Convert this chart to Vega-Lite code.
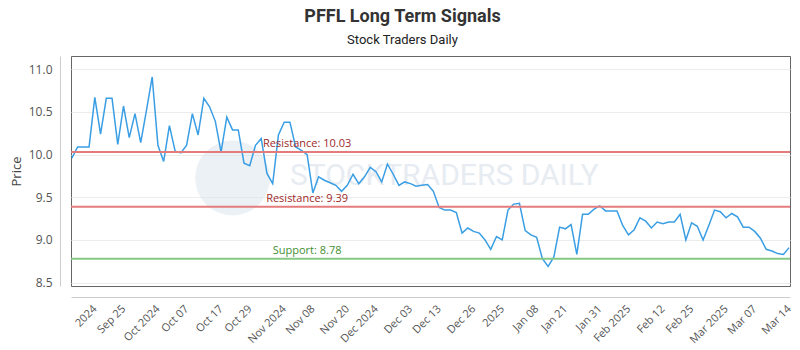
{
  "$schema": "https://vega.github.io/schema/vega-lite/v6.json",
  "autosize": {"type": "none"},
  "width": 719,
  "height": 230,
  "padding": {"left": 71, "top": 56, "right": 10, "bottom": 64},
  "title": {
    "text": "PFFL Long Term Signals",
    "subtitle": "Stock Traders Daily",
    "anchor": "middle",
    "frame": "group",
    "dx": -28,
    "offset": 9,
    "font": "Liberation Sans Narrow, Roboto",
    "fontSize": 18,
    "fontWeight": "bold",
    "color": "#333333",
    "subtitleFont": "Liberation Sans Narrow, Roboto",
    "subtitleFontSize": 13,
    "subtitleColor": "#222222",
    "subtitlePadding": 8
  },
  "config": {
    "view": {"stroke": "#666666", "strokeWidth": 1},
    "axis": {"labelFont": "Open Sans", "titleFont": "Open Sans", "labelColor": "#555555", "titleColor": "#444444"}
  },
  "datasets": {
    "prices": [
      {"date": "2024-09-12", "close": 9.96}, {"date": "2024-09-13", "close": 10.09}, {"date": "2024-09-16", "close": 10.09},
      {"date": "2024-09-17", "close": 10.09}, {"date": "2024-09-18", "close": 10.67}, {"date": "2024-09-19", "close": 10.24},
      {"date": "2024-09-20", "close": 10.66}, {"date": "2024-09-23", "close": 10.66}, {"date": "2024-09-24", "close": 10.12},
      {"date": "2024-09-25", "close": 10.57}, {"date": "2024-09-26", "close": 10.20}, {"date": "2024-09-27", "close": 10.48},
      {"date": "2024-09-30", "close": 10.14}, {"date": "2024-10-01", "close": 10.52}, {"date": "2024-10-02", "close": 10.91},
      {"date": "2024-10-03", "close": 10.11}, {"date": "2024-10-04", "close": 9.92}, {"date": "2024-10-07", "close": 10.34},
      {"date": "2024-10-08", "close": 10.04}, {"date": "2024-10-09", "close": 10.02}, {"date": "2024-10-10", "close": 10.11},
      {"date": "2024-10-11", "close": 10.48}, {"date": "2024-10-14", "close": 10.23}, {"date": "2024-10-15", "close": 10.66},
      {"date": "2024-10-16", "close": 10.56}, {"date": "2024-10-17", "close": 10.39}, {"date": "2024-10-18", "close": 10.03},
      {"date": "2024-10-21", "close": 10.44}, {"date": "2024-10-22", "close": 10.29}, {"date": "2024-10-23", "close": 10.29},
      {"date": "2024-10-24", "close": 9.90}, {"date": "2024-10-25", "close": 9.87}, {"date": "2024-10-28", "close": 10.11},
      {"date": "2024-10-29", "close": 10.19}, {"date": "2024-10-30", "close": 9.78}, {"date": "2024-10-31", "close": 9.66},
      {"date": "2024-11-01", "close": 10.23}, {"date": "2024-11-04", "close": 10.38}, {"date": "2024-11-05", "close": 10.38},
      {"date": "2024-11-06", "close": 10.09}, {"date": "2024-11-07", "close": 10.05}, {"date": "2024-11-08", "close": 10.00},
      {"date": "2024-11-11", "close": 9.55}, {"date": "2024-11-12", "close": 9.74}, {"date": "2024-11-13", "close": 9.70},
      {"date": "2024-11-14", "close": 9.67}, {"date": "2024-11-15", "close": 9.64}, {"date": "2024-11-18", "close": 9.57},
      {"date": "2024-11-19", "close": 9.64}, {"date": "2024-11-20", "close": 9.77}, {"date": "2024-11-21", "close": 9.66},
      {"date": "2024-11-22", "close": 9.74}, {"date": "2024-11-25", "close": 9.85}, {"date": "2024-11-26", "close": 9.80},
      {"date": "2024-11-27", "close": 9.68}, {"date": "2024-11-29", "close": 9.89}, {"date": "2024-12-02", "close": 9.77},
      {"date": "2024-12-03", "close": 9.64}, {"date": "2024-12-04", "close": 9.68}, {"date": "2024-12-05", "close": 9.66},
      {"date": "2024-12-06", "close": 9.63}, {"date": "2024-12-09", "close": 9.64}, {"date": "2024-12-10", "close": 9.65},
      {"date": "2024-12-11", "close": 9.57}, {"date": "2024-12-12", "close": 9.38}, {"date": "2024-12-13", "close": 9.35},
      {"date": "2024-12-16", "close": 9.35}, {"date": "2024-12-17", "close": 9.32}, {"date": "2024-12-18", "close": 9.08},
      {"date": "2024-12-19", "close": 9.14}, {"date": "2024-12-20", "close": 9.10}, {"date": "2024-12-23", "close": 9.08},
      {"date": "2024-12-24", "close": 9.00}, {"date": "2024-12-26", "close": 8.89}, {"date": "2024-12-27", "close": 9.04},
      {"date": "2024-12-30", "close": 9.00}, {"date": "2024-12-31", "close": 9.35}, {"date": "2025-01-02", "close": 9.42},
      {"date": "2025-01-03", "close": 9.43}, {"date": "2025-01-06", "close": 9.11}, {"date": "2025-01-07", "close": 9.06},
      {"date": "2025-01-08", "close": 9.03}, {"date": "2025-01-10", "close": 8.78}, {"date": "2025-01-13", "close": 8.69},
      {"date": "2025-01-14", "close": 8.80}, {"date": "2025-01-15", "close": 9.15}, {"date": "2025-01-16", "close": 9.13},
      {"date": "2025-01-17", "close": 9.18}, {"date": "2025-01-21", "close": 8.83}, {"date": "2025-01-22", "close": 9.30},
      {"date": "2025-01-23", "close": 9.30}, {"date": "2025-01-24", "close": 9.36}, {"date": "2025-01-27", "close": 9.40},
      {"date": "2025-01-28", "close": 9.34}, {"date": "2025-01-29", "close": 9.34}, {"date": "2025-01-30", "close": 9.34},
      {"date": "2025-01-31", "close": 9.17}, {"date": "2025-02-03", "close": 9.06}, {"date": "2025-02-04", "close": 9.12},
      {"date": "2025-02-05", "close": 9.26}, {"date": "2025-02-06", "close": 9.22}, {"date": "2025-02-07", "close": 9.14},
      {"date": "2025-02-10", "close": 9.21}, {"date": "2025-02-11", "close": 9.19}, {"date": "2025-02-12", "close": 9.21},
      {"date": "2025-02-13", "close": 9.21}, {"date": "2025-02-14", "close": 9.30}, {"date": "2025-02-18", "close": 9.00},
      {"date": "2025-02-19", "close": 9.20}, {"date": "2025-02-20", "close": 9.16}, {"date": "2025-02-21", "close": 9.00},
      {"date": "2025-02-24", "close": 9.17}, {"date": "2025-02-25", "close": 9.35}, {"date": "2025-02-26", "close": 9.33},
      {"date": "2025-02-27", "close": 9.26}, {"date": "2025-02-28", "close": 9.31}, {"date": "2025-03-03", "close": 9.27},
      {"date": "2025-03-04", "close": 9.15}, {"date": "2025-03-05", "close": 9.15}, {"date": "2025-03-06", "close": 9.10},
      {"date": "2025-03-07", "close": 9.02}, {"date": "2025-03-10", "close": 8.89}, {"date": "2025-03-11", "close": 8.87},
      {"date": "2025-03-12", "close": 8.84}, {"date": "2025-03-13", "close": 8.83}, {"date": "2025-03-14", "close": 8.91}
    ],
    "levels": [
      {"kind": "resistance", "level": 10.03, "label": "Resistance: 10.03"},
      {"kind": "resistance", "level": 9.39, "label": "Resistance: 9.39"},
      {"kind": "support", "level": 8.78, "label": "Support: 8.78"}
    ],
    "mark": [
      {"name": "STOCKTRADERS DAILY", "date": "2024-11-05", "pos": 9.75, "logoDate": "2024-10-22", "logoPos": 9.726}
    ]
  },
  "layer": [
    {
      "data": {"name": "mark"},
      "mark": {"type": "point", "filled": true, "color": "#dde5ee", "opacity": 0.55, "size": 5600},
      "encoding": {
        "x": {"field": "logoDate", "type": "ordinal"},
        "y": {"field": "logoPos", "type": "quantitative"}
      }
    },
    {
      "data": {"name": "mark"},
      "mark": {"type": "text", "align": "left", "baseline": "middle", "font": "Liberation Sans Narrow, Roboto", "fontSize": 30, "color": "#e7ecf2"},
      "encoding": {
        "x": {"field": "date", "type": "ordinal"},
        "y": {"field": "pos", "type": "quantitative"},
        "text": {"field": "name"}
      }
    },
    {
      "data": {"name": "prices"},
      "mark": {"type": "line", "color": "#3a9ee4", "strokeWidth": 1.5},
      "encoding": {
        "x": {
          "field": "date", "type": "ordinal",
          "scale": {"type": "point", "padding": 0.15},
          "axis": {
            "title": null,
            "offset": 11,
            "domainColor": "#cccccc",
            "ticks": false,
            "grid": false,
            "labelAngle": -45,
            "labelAlign": "right",
            "labelBaseline": "middle",
            "labelPadding": 10,
            "labelFontSize": 11,
            "labelOverlap": false,
            "values": ["2024-09-18","2024-09-25","2024-10-03","2024-10-10","2024-10-18","2024-10-25","2024-11-04","2024-11-11","2024-11-19","2024-11-26","2024-12-05","2024-12-12","2024-12-20","2024-12-30","2025-01-08","2025-01-16","2025-01-27","2025-02-03","2025-02-11","2025-02-19","2025-02-27","2025-03-06","2025-03-14"],
            "labelExpr": "{'2024-09-18':'2024','2024-09-25':'Sep 25','2024-10-03':'Oct 2024','2024-10-10':'Oct 07','2024-10-18':'Oct 17','2024-10-25':'Oct 29','2024-11-04':'Nov 2024','2024-11-11':'Nov 08','2024-11-19':'Nov 20','2024-11-26':'Dec 2024','2024-12-05':'Dec 03','2024-12-12':'Dec 13','2024-12-20':'Dec 26','2024-12-30':'2025','2025-01-08':'Jan 08','2025-01-16':'Jan 21','2025-01-27':'Jan 31','2025-02-03':'Feb 2025','2025-02-11':'Feb 12','2025-02-19':'Feb 25','2025-02-27':'Mar 2025','2025-03-06':'Mar 07','2025-03-14':'Mar 14'}[datum.value]"
          }
        },
        "y": {
          "field": "close", "type": "quantitative",
          "scale": {"domain": [8.46, 11.156], "nice": false, "zero": false},
          "axis": {
            "title": "Price",
            "titleFontSize": 13,
            "titleFontWeight": "normal",
            "titlePadding": 5,
            "offset": 11,
            "domainColor": "#cccccc",
            "ticks": false,
            "values": [8.5, 9, 9.5, 10, 10.5, 11],
            "format": ".1f",
            "labelFontSize": 12,
            "labelPadding": 8,
            "gridColor": "#ececec"
          }
        }
      }
    },
    {
      "data": {"name": "levels"},
      "mark": {"type": "rule", "strokeWidth": 2},
      "encoding": {
        "y": {"field": "level", "type": "quantitative"},
        "stroke": {"field": "kind", "type": "nominal", "scale": {"domain": ["resistance", "support"], "range": ["#e47c7c", "#86c986"]}, "legend": null}
      }
    },
    {
      "data": {"name": "levels"},
      "mark": {"type": "text", "align": "center", "baseline": "bottom", "dy": -3, "font": "Open Sans", "fontSize": 11},
      "encoding": {
        "x": {"datum": "2024-11-08"},
        "y": {"field": "level", "type": "quantitative"},
        "text": {"field": "label"},
        "fill": {"field": "kind", "type": "nominal", "scale": {"domain": ["resistance", "support"], "range": ["#9e2a2a", "#3f8f30"]}, "legend": null}
      }
    }
  ]
}
